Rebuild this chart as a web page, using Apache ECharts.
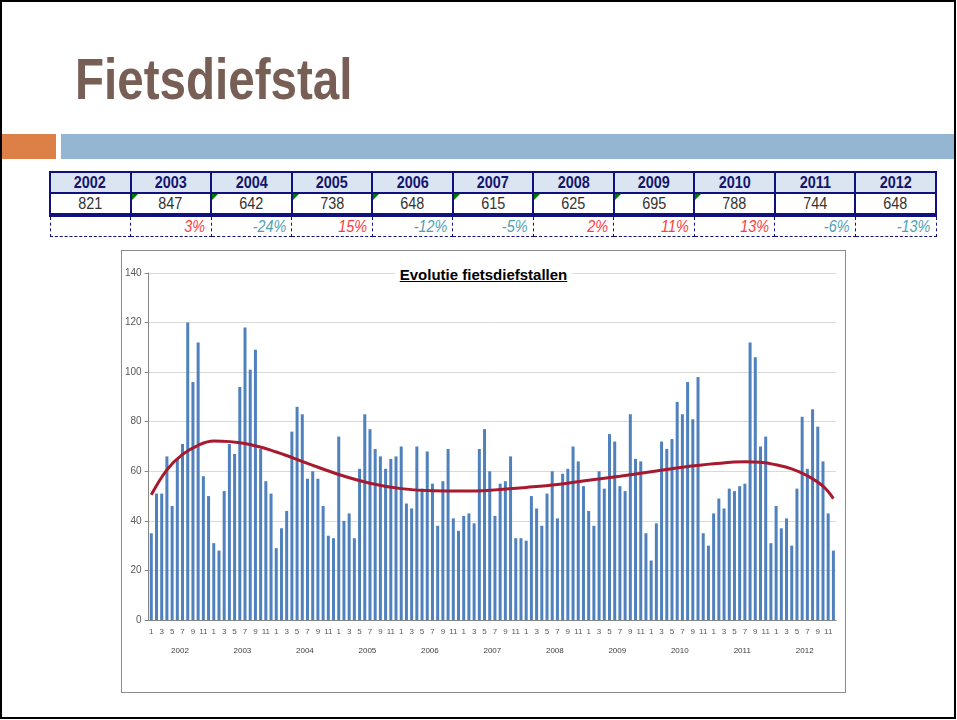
<!DOCTYPE html>
<html>
<head>
<meta charset="utf-8">
<script src="https://cdn.jsdelivr.net/npm/echarts@6/dist/echarts.min.js"></script>
<style>
  html, body { margin: 0; padding: 0; background: #fff; }
  #slide { position: relative; width: 957px; height: 720px; overflow: hidden; font-family: 'Liberation Sans', Arial, sans-serif; }
  #frame { position: absolute; left: 0; top: 0; width: 952px; height: 715px; border: 2px solid #000; }
  #title { position: absolute; left: 75px; top: 50px; font-size: 58px; line-height: 58px; font-weight: bold; color: #775F55; transform: scaleX(0.82); transform-origin: 0 0; white-space: nowrap; }
  #barOrange { position: absolute; left: 2px; top: 134px; width: 54px; height: 25px; background: #DD8047; }
  #barBlue { position: absolute; left: 61px; top: 134px; width: 893px; height: 25px; background: #94B6D2; }
  #tbl { position: absolute; left: 49px; top: 171px; width: 888px; border-collapse: collapse; table-layout: fixed; }
  #tbl td { border: 2px solid #10107F; text-align: center; padding: 0; position: relative; white-space: nowrap; }
  #tbl tr.hdr td { height: 19px; background: #DBE5F1; font-weight: bold; font-size: 16px; color: #14146E; }
  #tbl tr.val td { height: 19px; font-size: 16px; color: #333; border-bottom: 4px solid #10107F; }
  #tbl tr.pct td { height: 19px; border: 1px dashed #10107F; text-align: right; font-style: italic; font-size: 16px; padding-right: 5px; }
  #tbl span { display: inline-block; transform: scaleX(0.9); }
  #tbl tr.pct span { transform-origin: 100% 50%; }
  #tbl td.flag::before { content: ''; position: absolute; left: 0; top: 0; border-top: 6px solid #007A00; border-right: 6px solid transparent; }
  #chartBox { position: absolute; left: 121px; top: 250px; width: 723px; height: 441px; border: 1px solid #8C8C8C; }
  #chart { width: 723px; height: 441px; }
  #ctitle { position: absolute; left: 0; right: 0; top: 15px; text-align: center; }
  #ctitle span { background: #fff; padding: 0 5px; font-weight: bold; font-size: 15px; line-height: 18px; color: #000; text-decoration: underline; }
</style>
</head>
<body>
<div id="slide">
  <div id="frame"></div>
  <div id="title">Fietsdiefstal</div>
  <div id="barOrange"></div>
  <div id="barBlue"></div>
  <table id="tbl"></table>
  <div id="chartBox">
    <div id="chart"></div>
    <div id="ctitle"><span>Evolutie fietsdiefstallen</span></div>
  </div>
</div>
<script>
// jaartotalen (tabel)
var years = ['2002', '2003', '2004', '2005', '2006', '2007', '2008', '2009', '2010', '2011', '2012']
var totals = [821, 847, 642, 738, 648, 615, 625, 695, 788, 744, 648]
var changes = ['', '3%', '-24%', '15%', '-12%', '-5%', '2%', '11%', '13%', '-6%', '-13%']
var flagged = ['2003', '2004', '2005', '2006', '2007', '2008', '2009', '2010']

// maandcijfers per jaar
var months = ['1', '2', '3', '4', '5', '6', '7', '8', '9', '10', '11', '12']
var m2002 = [35, 51, 51, 66, 46, 65, 71, 120, 96, 112, 58, 50]
var m2003 = [31, 28, 52, 71, 67, 94, 118, 101, 109, 69, 56, 51]
var m2004 = [29, 37, 44, 76, 86, 83, 57, 60, 57, 46, 34, 33]
var m2005 = [74, 40, 43, 33, 61, 83, 77, 69, 66, 61, 65, 66]
var m2006 = [70, 47, 45, 70, 53, 68, 55, 38, 56, 69, 41, 36]
var m2007 = [42, 43, 39, 69, 77, 60, 42, 55, 56, 66, 33, 33]
var m2008 = [32, 50, 45, 38, 51, 60, 41, 59, 61, 70, 64, 54]
var m2009 = [44, 38, 60, 53, 75, 72, 54, 52, 83, 65, 64, 35]
var m2010 = [24, 39, 72, 69, 73, 88, 83, 96, 81, 98, 35, 30]
var m2011 = [43, 49, 45, 53, 52, 54, 55, 112, 106, 70, 74, 31]
var m2012 = [46, 37, 41, 30, 53, 82, 61, 85, 78, 64, 43, 28]

var trendIdx = [0, 3, 6, 9, 12, 18, 24, 30, 36, 42, 48, 54, 60, 66, 72, 78, 84, 90, 96, 102, 108, 114, 117, 120, 123, 126, 129, 131]
var trendVal = [50.5, 60.6, 66.8, 70.5, 72.2, 71.2, 67.8, 63.2, 58.7, 55.2, 53.0, 52.1, 52.0, 52.5, 53.5, 54.7, 56.4, 58.0, 59.8, 61.6, 63.0, 63.8, 63.6, 62.6, 61.0, 58.2, 54.0, 49]

// tabel opbouwen
var tbl = document.getElementById('tbl')
var hdr = '<tr class="hdr">', val = '<tr class="val">', pct = '<tr class="pct">'
years.forEach(function (y, i) {
  hdr += '<td><span>' + y + '</span></td>'
  val += '<td' + (flagged.indexOf(y) >= 0 ? ' class="flag"' : '') + '><span>' + totals[i] + '</span></td>'
  var c = changes[i]
  var col = c.charAt(0) === '-' ? '#4E9FB5' : '#FF3B3B'
  pct += '<td><span style="color:' + col + '">' + c + '</span></td>'
})
tbl.innerHTML = hdr + '</tr>' + val + '</tr>' + pct + '</tr>'

var perYear = [m2002, m2003, m2004, m2005, m2006, m2007, m2008, m2009, m2010, m2011, m2012]
var monthCats = []
var monthly = []
perYear.forEach(function (arr) {
  arr.forEach(function (v, j) {
    monthCats.push(months[j])
    monthly.push(v)
  })
})
var trend = monthly.map(function () { return null })
trendIdx.forEach(function (ix, k) { trend[ix] = trendVal[k] })

var myChart = echarts.init(document.getElementById('chart'))
var option = {
  animation: false,
  textStyle: { fontFamily: 'Liberation Sans, Arial, sans-serif' },
  grid: { left: 26, right: 9, top: 22, bottom: 72 },
  xAxis: [
    {
      type: 'category',
      data: monthCats,
      axisLine: { lineStyle: { color: '#868686' } },
      axisTick: { interval: 0, length: 19, lineStyle: { color: '#BFBFBF' } },
      axisLabel: { interval: 1, fontSize: 8, color: '#595959', margin: 8 },
      splitLine: { show: false }
    },
    {
      type: 'category',
      data: years,
      position: 'bottom',
      axisLine: { show: false },
      axisTick: { interval: 0, length: 38, lineStyle: { color: '#BFBFBF' } },
      axisLabel: { fontSize: 8, color: '#404040', margin: 27 },
      splitLine: { show: false }
    }
  ],
  yAxis: {
    type: 'value',
    min: 0,
    max: 140,
    interval: 20,
    axisLine: { show: true, lineStyle: { color: '#868686' } },
    axisTick: { show: true, length: 4, lineStyle: { color: '#868686' } },
    axisLabel: { fontSize: 10, color: '#595959', margin: 7 },
    splitLine: { lineStyle: { color: '#D9D9D9' } }
  },
  series: [
    {
      type: 'bar',
      xAxisIndex: 0,
      data: monthly,
      barWidth: 3,
      itemStyle: { color: '#4F81BD' }
    },
    {
      type: 'line',
      xAxisIndex: 0,
      data: trend,
      connectNulls: true,
      smooth: 0.4,
      symbol: 'none',
      lineStyle: { color: '#A6192E', width: 3 },
      z: 5
    }
  ]
}
myChart.setOption(option)
</script>
</body>
</html>
